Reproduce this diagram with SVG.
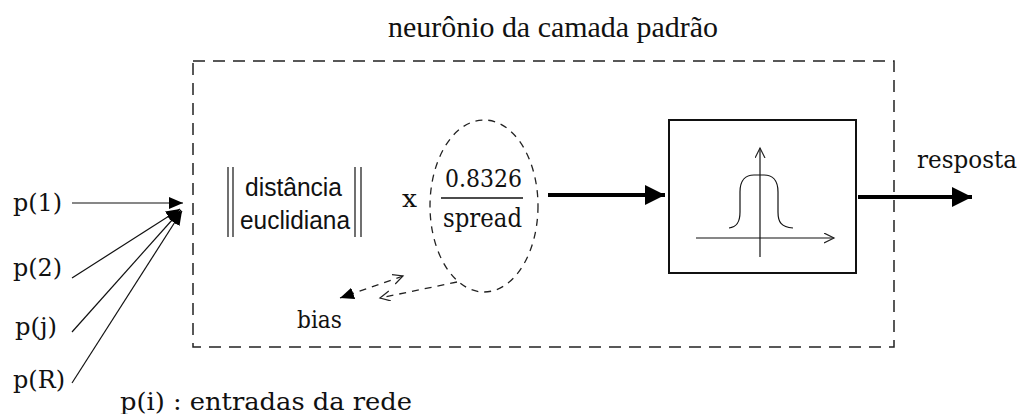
<svg xmlns="http://www.w3.org/2000/svg" width="1020" height="414" viewBox="0 0 1020 414">
<style>
.serif{font-family:"DejaVu Serif","Liberation Serif",serif;fill:#111}
.title{font-family:"Liberation Serif","Times New Roman",serif;fill:#111}
.sans{font-family:"Liberation Sans",Arial,sans-serif;fill:#111}
.thin{stroke:#111;stroke-width:1.2;fill:none}
.thick{stroke:#000;stroke-width:4;fill:none}
.dash{stroke:#222;stroke-width:1.5;fill:none;stroke-dasharray:12 8}
.sdash{stroke:#222;stroke-width:1.3;fill:none;stroke-dasharray:7 6}
</style>
<defs>
<marker id="big" markerUnits="userSpaceOnUse" markerWidth="22" markerHeight="22" refX="20" refY="10" orient="auto">
<path d="M0,0 L20,10 L0,20 Z" fill="#000"/>
</marker>
<marker id="small" markerUnits="userSpaceOnUse" markerWidth="16" markerHeight="14" refX="14" refY="6" orient="auto">
<path d="M0,0 L14,6 L0,12 Z" fill="#000"/>
</marker>
<marker id="open" markerUnits="userSpaceOnUse" markerWidth="12" markerHeight="12" refX="10" refY="5" orient="auto-start-reverse">
<path d="M0,0 L10,5 L0,10" fill="none" stroke="#222" stroke-width="1.2"/>
</marker>
</defs>

<g id="neuron-boundary">
<rect x="193" y="61" width="701" height="286" class="dash"/>
<text class="title" x="388" y="37" font-size="30" textLength="330" lengthAdjust="spacingAndGlyphs">neurônio da camada padrão</text>
</g>

<g id="inputs">
<text class="serif" x="13" y="211" font-size="24" textLength="49" lengthAdjust="spacingAndGlyphs">p(1)</text>
<text class="serif" x="13" y="276" font-size="24" textLength="49" lengthAdjust="spacingAndGlyphs">p(2)</text>
<text class="serif" x="15" y="335" font-size="24" textLength="42" lengthAdjust="spacingAndGlyphs">p(j)</text>
<text class="serif" x="13" y="388" font-size="24" textLength="52" lengthAdjust="spacingAndGlyphs">p(R)</text>
<text class="serif" x="120" y="410" font-size="24" textLength="292" lengthAdjust="spacingAndGlyphs">p(i) : entradas da rede</text>
</g>

<g id="distance">
<line x1="228" y1="167" x2="228" y2="237" class="thin" stroke-width="1.5"/>
<line x1="233" y1="167" x2="233" y2="237" class="thin" stroke-width="1.5"/>
<line x1="355" y1="167" x2="355" y2="237" class="thin" stroke-width="1.5"/>
<line x1="361" y1="167" x2="361" y2="237" class="thin" stroke-width="1.5"/>
<text class="sans" x="245" y="196" font-size="25" textLength="97" lengthAdjust="spacingAndGlyphs">distância</text>
<text class="sans" x="240" y="229" font-size="25" textLength="110" lengthAdjust="spacingAndGlyphs">euclidiana</text>
</g>

<g id="scale">
<text class="serif" x="402" y="207" font-size="25" textLength="15" lengthAdjust="spacingAndGlyphs">x</text>
<ellipse cx="484" cy="206" rx="54" ry="86" class="sdash"/>
<text class="serif" x="445" y="187" font-size="25" textLength="77" lengthAdjust="spacingAndGlyphs">0.8326</text>
<line x1="441" y1="198" x2="523" y2="198" stroke="#111" stroke-width="1.6"/>
<text class="serif" x="443" y="227" font-size="26" textLength="79" lengthAdjust="spacingAndGlyphs">spread</text>
</g>

<g id="bias">
<text class="serif" x="297" y="328" font-size="24" textLength="45" lengthAdjust="spacingAndGlyphs">bias</text>
</g>

<g id="transfer">
<rect x="669" y="120" width="187" height="153" fill="none" stroke="#111" stroke-width="2"/>
<line x1="760" y1="257" x2="760" y2="148" class="thin" marker-end="url(#open)"/>
<line x1="696" y1="238" x2="834" y2="238" class="thin" marker-end="url(#open)"/>
<path d="M729,228 C737,227 740,222 740,212 L740,192 C740,180 746,175 754,175 L764,175 C772,175 778,180 778,192 L778,212 C778,222 781,227 793,228" class="thin" stroke-width="1.5"/>
</g>

<g id="output">
<text class="serif" x="917" y="168" font-size="24" textLength="100" lengthAdjust="spacingAndGlyphs">resposta</text>
</g>

<g id="connectors">
<line x1="72" y1="203" x2="183" y2="203" class="thin" marker-end="url(#small)"/>
<line x1="72" y1="278" x2="180" y2="209" class="thin" marker-end="url(#small)"/>
<line x1="72" y1="332" x2="181" y2="210" class="thin" marker-end="url(#small)"/>
<line x1="72" y1="383" x2="182" y2="211" class="thin" marker-end="url(#small)"/>
<line x1="548" y1="195" x2="665" y2="195" class="thick" marker-end="url(#big)"/>
<line x1="858" y1="197" x2="972" y2="197" class="thick" marker-end="url(#big)"/>
<line x1="403" y1="276" x2="340" y2="298" class="sdash" marker-start="url(#open)" marker-end="url(#small)"/>
<line x1="457" y1="282" x2="380" y2="298" class="sdash" marker-end="url(#open)"/>
</g>
</svg>
